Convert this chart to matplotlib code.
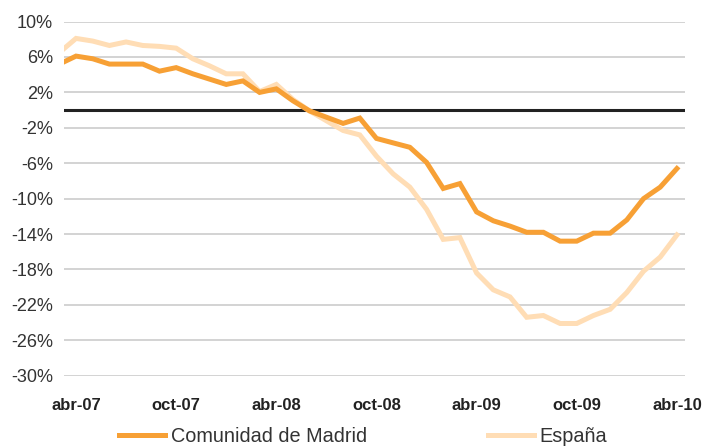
import matplotlib.pyplot as plt
import numpy as np

# monthly year-on-year change, mar-07 .. abr-10 (mar-07 only partly visible)
months = ['mar-07', 'abr-07', 'may-07', 'jun-07', 'jul-07', 'ago-07', 'sep-07', 'oct-07',
          'nov-07', 'dic-07', 'ene-08', 'feb-08', 'mar-08', 'abr-08', 'may-08', 'jun-08',
          'jul-08', 'ago-08', 'sep-08', 'oct-08', 'nov-08', 'dic-08', 'ene-09', 'feb-09',
          'mar-09', 'abr-09', 'may-09', 'jun-09', 'jul-09', 'ago-09', 'sep-09', 'oct-09',
          'nov-09', 'dic-09', 'ene-10', 'feb-10', 'mar-10', 'abr-10']
madrid = [5.2, 6.1, 5.8, 5.2, 5.2, 5.2, 4.4, 4.8, 4.1, 3.5, 2.9, 3.3, 2.0, 2.4, 1.05, -0.1,
          -0.8, -1.5, -0.9, -3.2, -3.7, -4.2, -5.9, -8.85, -8.3, -11.5, -12.5, -13.1, -13.8,
          -13.8, -14.8, -14.8, -13.9, -13.9, -12.4, -10.0, -8.7, -6.6]
espana = [6.5, 8.1, 7.8, 7.3, 7.7, 7.3, 7.2, 7.0, 5.8, 5.0, 4.1, 4.1, 2.1, 2.9, 1.2, -0.1,
          -1.2, -2.3, -2.8, -5.2, -7.2, -8.7, -11.2, -14.6, -14.4, -18.4, -20.3, -21.1, -23.4,
          -23.2, -24.1, -24.1, -23.2, -22.5, -20.6, -18.2, -16.6, -14.1]
tick_labels = ['abr-07', 'oct-07', 'abr-08', 'oct-08', 'abr-09', 'oct-09', 'abr-10']
yticks = [10, 6, 2, -2, -6, -10, -14, -18, -22, -26, -30]

plt.rcParams['font.family'] = ['Liberation Sans', 'DejaVu Sans']

fig = plt.figure(figsize=(7.08, 4.46), dpi=100)
ax = fig.add_axes([0.0904, 0.1576, 0.877, 0.794])

x = np.arange(len(months))
ax.plot(x, madrid, color='#F7A035', lw=3.6, label='Comunidad de Madrid', zorder=4,
        solid_joinstyle='miter')
ax.plot(x, espana, color='#FFDDB5', lw=3.6, label='España', zorder=3,
        solid_joinstyle='miter')
ax.axhline(0, color='#222222', lw=2.2, zorder=2)

ax.set_xlim(0.28, 37.48)
ax.set_ylim(-30, 10)
ax.set_yticks(yticks)
ax.set_yticklabels([f'{v}%' for v in yticks], fontsize=13, color='#333333')
ax.set_xticks([months.index(m) for m in tick_labels])
ax.set_xticklabels(tick_labels, fontsize=12, fontweight='bold', color='#222222')
ax.tick_params(axis='both', length=0)
ax.tick_params(axis='y', pad=8)
ax.tick_params(axis='x', pad=16)
ax.grid(axis='y', color='#cccccc', lw=1.2)
ax.set_axisbelow(True)
for s in ax.spines.values():
    s.set_visible(False)

fig.legend(loc='center', bbox_to_anchor=(0.513, 0.022), ncol=2, frameon=False,
           fontsize=14.3, handlelength=2.3, handletextpad=0.3, columnspacing=6.1,
           borderpad=0, labelcolor='#333333')

fig.savefig('out.png', dpi=100)
